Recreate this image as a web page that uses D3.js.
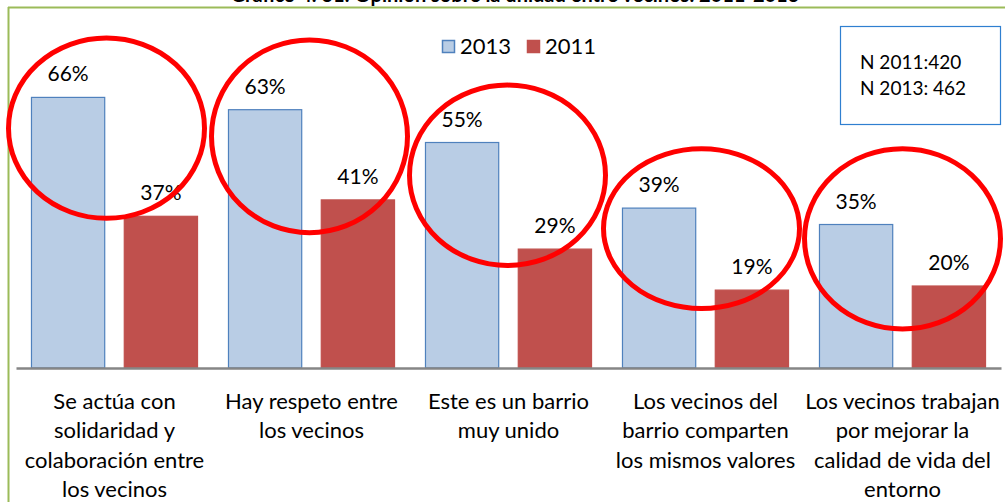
<!DOCTYPE html>
<html>
<head>
<meta charset="utf-8">
<script src="https://cdn.jsdelivr.net/npm/d3@7"></script>
<style>
  body { margin: 0; background: #fff; }
  svg { display: block; font-family: Lato, "Open Sans", sans-serif; }
</style>
</head>
<body>
<div class="svg-container"></div>
<script>
var width = 1005;
var height = 502;

// data
var categories = [
  ["Se actúa con", "solidaridad y", "colaboración entre", "los vecinos"],
  ["Hay respeto entre", "los vecinos"],
  ["Este es un barrio", "muy unido"],
  ["Los vecinos del", "barrio comparten", "los mismos valores"],
  ["Los vecinos trabajan", "por mejorar la", "calidad de vida del", "entorno"]
];
var series = ["2013", "2011"];
var values2013 = [66, 63, 55, 39, 35];
var values2011 = [37, 41, 29, 19, 20];
var noteLines = ["N 2011:420", "N 2013: 462"];
var title = "Gráfico 4. 31: Opinión sobre la unidad entre vecinos. 2011-2013";

// red highlight ellipses (centre and vertical radius in % units, small sideways shift)
var ringCentre = [58.5, 56.5, 47, 34, 31.5];
var ringRadius = [22, 23.5, 22, 19.5, 22];
var ringShift = [-8, -2, -1, -4, 0];

var colors = { "2013": "#b9cde5", "2011": "#c0504d" };
var strokes = { "2013": "#4f81bd", "2011": "#c0504d" };

var svg = d3.select(".svg-container")
              .append("svg")
              .attr("width", width)
              .attr("height", height);

// chart frame (only top and left edges visible)
svg.append("line")
    .attr("x1", 8).attr("x2", width).attr("y1", 7.5).attr("y2", 7.5)
    .attr("stroke", "#9bbb59").attr("stroke-width", 2);
svg.append("line")
    .attr("x1", 8.5).attr("x2", 8.5).attr("y1", 7).attr("y2", height)
    .attr("stroke", "#9bbb59").attr("stroke-width", 2);

// title, cut by the top edge as in the original
svg.append("text")
    .attr("x", 515)
    .attr("y", 2)
    .attr("text-anchor", "middle")
    .attr("font-weight", "bold")
    .attr("font-size", 20)
    .text(title);

// scales
var x0 = d3.scaleBand()
            .domain(d3.range(categories.length))
            .range([16, 1001]);

var x1 = d3.scaleBand()
            .domain(series)
            .range([x0.bandwidth() * 0.076, x0.bandwidth() * 0.924])
            .paddingInner(0.2);

var y = d3.scaleLinear()
            .domain([0, 70])
            .range([368, 368 - 70 * 4.1]);

var rows = categories.map(function(c, i) {
  return { i: i, "2013": values2013[i], "2011": values2011[i] };
});

// bars
var groups = svg.append("g")
    .selectAll("g")
    .data(rows)
    .enter()
    .append("g")
    .attr("transform", function(d) { return "translate(" + x0(d.i) + ",0)"; });

groups.selectAll("rect")
    .data(function(d) { return series.map(function(s) { return { s: s, v: d[s] }; }); })
    .enter()
    .append("rect")
    .attr("x", function(d) { return x1(d.s) + 0.5; })
    .attr("y", function(d) { return y(d.v); })
    .attr("width", function(d) { return x1.bandwidth() - 1; })
    .attr("height", function(d) { return y(0) - y(d.v); })
    .attr("fill", function(d) { return colors[d.s]; })
    .attr("stroke", function(d) { return strokes[d.s]; })
    .attr("stroke-width", 1.2);

groups.selectAll("text")
    .data(function(d) { return series.map(function(s) { return { s: s, v: d[s] }; }); })
    .enter()
    .append("text")
    .attr("x", function(d) { return x1(d.s) + x1.bandwidth() / 2; })
    .attr("y", function(d) { return y(d.v) - 16; })
    .attr("text-anchor", "middle")
    .attr("font-size", 21)
    .attr("fill", "#000")
    .text(function(d) { return d.v + "%"; });

// x axis
var xAxis = svg.append("g")
    .attr("transform", "translate(0," + y(0) + ")")
    .call(d3.axisBottom(x0).tickSize(0).tickFormat(""));
xAxis.select(".domain").attr("stroke", "#868686").attr("stroke-width", 2.5);

var labels = svg.append("g")
    .selectAll("text")
    .data(categories)
    .enter()
    .append("text")
    .attr("text-anchor", "middle")
    .attr("font-size", 22)
    .attr("fill", "#000");

labels.selectAll("tspan")
    .data(function(d, i) { return d.map(function(l) { return { l: l, i: i }; }); })
    .enter()
    .append("tspan")
    .attr("x", function(d) { return x0(d.i) + x0.bandwidth() / 2; })
    .attr("y", function(d, j) { return 409 + j * 29.3; })
    .text(function(d) { return d.l; });

// red rings
svg.append("g")
    .selectAll("ellipse")
    .data(rows)
    .enter()
    .append("ellipse")
    .attr("cx", function(d) { return x0(d.i) + x0.bandwidth() / 2 + ringShift[d.i]; })
    .attr("cy", function(d) { return y(ringCentre[d.i]); })
    .attr("rx", 98)
    .attr("ry", function(d) { return y(0) - y(ringRadius[d.i]); })
    .attr("fill", "none")
    .attr("stroke", "#ff0000")
    .attr("stroke-width", 5);

// legend
var legend = svg.append("g")
    .selectAll("g")
    .data(series)
    .enter()
    .append("g")
    .attr("transform", function(d, i) { return "translate(" + (442 + i * 85) + ",40)"; });

legend.append("rect")
    .attr("x", 0.5).attr("y", 0.5)
    .attr("width", 12).attr("height", 12)
    .attr("fill", function(d) { return colors[d]; })
    .attr("stroke", function(d) { return strokes[d]; })
    .attr("stroke-width", 1.5);

legend.append("text")
    .attr("x", 18)
    .attr("y", 14)
    .attr("font-size", 22)
    .text(function(d) { return d; });

// sample size note
svg.append("rect")
    .attr("x", 840.5).attr("y", 26.5)
    .attr("width", 160).attr("height", 98)
    .attr("fill", "#fff")
    .attr("stroke", "#2f7fd0")
    .attr("stroke-width", 1.2);

svg.append("g")
    .selectAll("text")
    .data(noteLines)
    .enter()
    .append("text")
    .attr("x", 860)
    .attr("y", function(d, i) { return 69 + i * 26; })
    .attr("font-size", 19)
    .text(function(d) { return d; });
</script>
</body>
</html>
